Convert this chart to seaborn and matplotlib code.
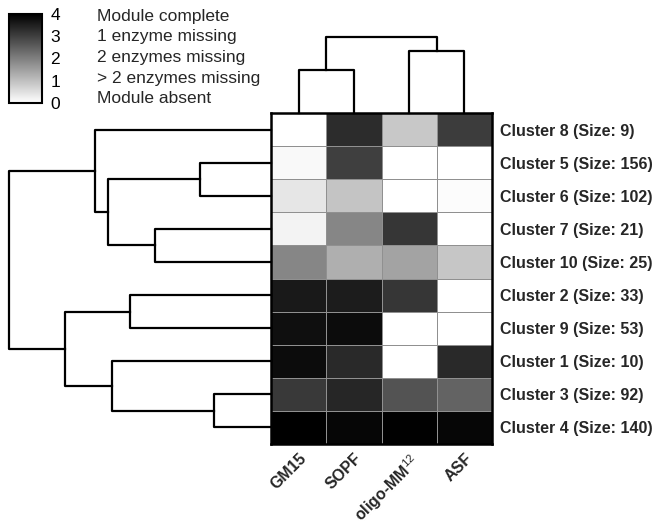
import numpy as np
import pandas as pd
import matplotlib
matplotlib.use('Agg')
import matplotlib.pyplot as plt
from matplotlib.colors import LinearSegmentedColormap
import seaborn as sns

sns.set_theme(style='white')
plt.rcParams['font.family'] = ['Liberation Sans', 'DejaVu Sans']
plt.rcParams['mathtext.fontset'] = 'custom'
plt.rcParams['mathtext.rm'] = 'Liberation Sans'
plt.rcParams['mathtext.it'] = 'Liberation Sans:italic'
plt.rcParams['mathtext.bf'] = 'Liberation Sans:bold'

# rows in dendrogram order (top to bottom)
clusters = ['Cluster 8 (Size: 9)', 'Cluster 5 (Size: 156)', 'Cluster 6 (Size: 102)',
            'Cluster 7 (Size: 21)', 'Cluster 10 (Size: 25)', 'Cluster 2 (Size: 33)',
            'Cluster 9 (Size: 53)', 'Cluster 1 (Size: 10)', 'Cluster 3 (Size: 92)',
            'Cluster 4 (Size: 140)']
communities = ['GM15', 'SOPF', 'oligo-MM$^{12}$', 'ASF']

gm15 = [0.0, 0.1, 0.4, 0.2, 1.9, 3.6, 3.75, 3.8, 3.1, 4.0]
sopf = [3.3, 3.0, 0.93, 1.9, 1.25, 3.55, 3.8, 3.35, 3.4, 3.9]
oligo = [0.86, 0.0, 0.0, 3.15, 1.45, 3.15, 0.0, 0.0, 2.7, 3.97]
asf = [3.06, 0.0, 0.05, 0.0, 0.9, 0.0, 0.0, 3.35, 2.45, 3.9]

# linkage (child a, child b, distance); new nodes numbered after the leaves
row_links = [(1, 2, 7.1), (3, 4, 11.6), (10, 11, 16.3), (0, 12, 17.6),
             (5, 6, 14.1), (8, 9, 5.7), (7, 15, 15.9), (14, 16, 20.6),
             (13, 17, 26.2)]
col_links = [(0, 1, 4.3), (2, 3, 6.2), (4, 5, 7.6)]

cb_labels = ['Module complete', '1 enzyme missing', '2 enzymes missing',
             '> 2 enzymes missing', 'Module absent']

df = pd.DataFrame({'GM15': gm15, 'SOPF': sopf, 'oligo': oligo, 'ASF': asf}, index=clusters)


def dendro_segments(links, n_leaves):
    pos = {i: i + 0.5 for i in range(n_leaves)}
    hgt = {i: 0.0 for i in range(n_leaves)}
    segs = []
    for k, (a, b, h) in enumerate(links):
        node = n_leaves + k
        segs.append(([pos[a], pos[a], pos[b], pos[b]], [hgt[a], h, h, hgt[b]]))
        pos[node] = (pos[a] + pos[b]) / 2
        hgt[node] = h
    return segs


W, H = 659, 527
def box(x0, y0, x1, y1):
    return [x0 / W, 1 - y1 / H, (x1 - x0) / W, (y1 - y0) / H]

fig = plt.figure(figsize=(6.59, 5.27), dpi=100)
ax = fig.add_axes(box(271, 113, 492, 444))
ax_row = fig.add_axes(box(0, 113, 271, 444))
ax_col = fig.add_axes(box(271, 30, 492, 113))
cax = fig.add_axes(box(9, 14, 42, 103))

cmap = LinearSegmentedColormap.from_list('wk', ['white', 'black'])
sns.heatmap(df, ax=ax, cmap=cmap, vmin=0, vmax=4, linewidths=0.7, linecolor='#909090',
            cbar_ax=cax, cbar_kws={'ticks': [0, 1, 2, 3, 4]})

for s in ax.spines.values():
    s.set_visible(True)
    s.set_linewidth(1.8)
    s.set_color('black')

ax.yaxis.tick_right()
ax.set_yticklabels(clusters, rotation=0, fontweight='bold', fontsize=11.5)
ax.set_xticklabels(communities, rotation=45, ha='right', rotation_mode='anchor',
                   fontweight='bold', fontsize=11.5)
ax.tick_params(axis='y', length=0, pad=6)
ax.tick_params(axis='x', length=0, pad=5)
ax.set_xlabel('')
ax.set_ylabel('')

# row dendrogram
for xs, ys in dendro_segments(row_links, len(clusters)):
    ax_row.plot(ys, xs, color='black', lw=1.6, clip_on=False, solid_capstyle='projecting')
ax_row.set_ylim(len(clusters), 0)
ax_row.set_xlim(27.1, 0)
ax_row.axis('off')

# column dendrogram
for xs, ys in dendro_segments(col_links, len(communities)):
    ax_col.plot(xs, ys, color='black', lw=1.6, clip_on=False, solid_capstyle='projecting')
ax_col.set_xlim(0, len(communities))
ax_col.set_ylim(0, 8.3)
ax_col.axis('off')

# colour bar
cbar = ax.collections[0].colorbar
cbar.outline.set_linewidth(1.5)
cbar.outline.set_edgecolor('black')
cax.tick_params(direction='in', left=True, right=True, length=4, width=1.2,
                labelsize=12.5, pad=6, colors='black')
for yy, lab in zip(np.linspace(0.975, 0.045, len(cb_labels)), cb_labels):
    cax.text(2.67, yy, lab, transform=cax.transAxes, fontsize=12.5, va='center', ha='left')

fig.savefig('out.png', dpi=100)
